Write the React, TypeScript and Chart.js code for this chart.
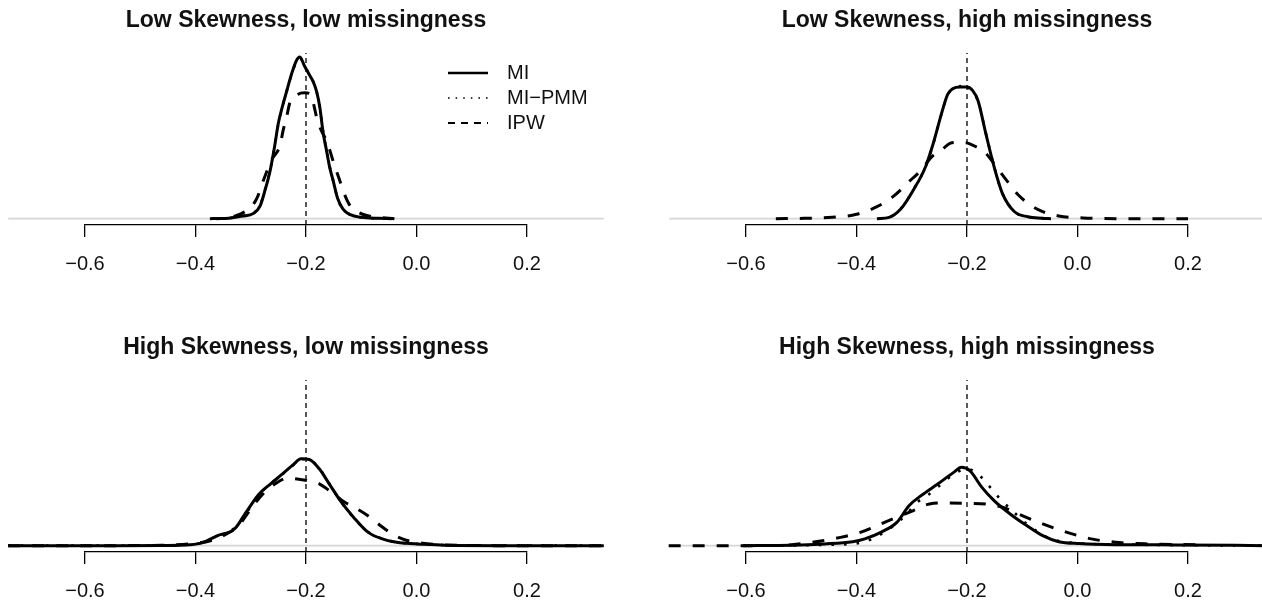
import React, { useEffect, useRef } from 'react';
import { Chart, registerables } from 'chart.js';

Chart.register(...registerables);

type Pt = [number, number];

// ---------- data ----------
const panelTitles = [
  'Low Skewness, low missingness',
  'Low Skewness, high missingness',
  'High Skewness, low missingness',
  'High Skewness, high missingness',
];
const seriesNames = ['MI', 'MI\u2212PMM', 'IPW'];
const tickValues = [-0.6, -0.4, -0.2, 0.0, 0.2];
const tickLabels = ['\u22120.6', '\u22120.4', '\u22120.2', '0.0', '0.2'];
const referenceValue = -0.2;
const zeroLineRange = [-0.739, 0.339];
const topRowYRange = [-0.4, 10.4];
const bottomRowYRange = [-0.34, 8.84];

// Low skewness, low missingness
const lowLowMI: Pt[] = [[-0.362,0],[-0.34,0.03],[-0.315,0.16],[-0.295,0.33],[-0.283,0.8],[-0.274,1.8],[-0.265,3.0],[-0.257,4.5],[-0.25,6.0],[-0.243,7.0],[-0.235,8.0],[-0.226,9.1],[-0.217,9.95],[-0.211,10.15],[-0.203,9.6],[-0.195,9.1],[-0.187,8.6],[-0.181,8.0],[-0.175,7.0],[-0.169,5.4],[-0.163,4.3],[-0.157,3.2],[-0.151,2.4],[-0.143,1.3],[-0.133,0.6],[-0.12,0.25],[-0.1,0.08],[-0.07,0.02],[-0.045,0]];
const lowLowPMM: Pt[] = [[-0.36,0],[-0.34,0.03],[-0.315,0.17],[-0.295,0.35],[-0.283,0.85],[-0.274,1.85],[-0.265,3.05],[-0.257,4.5],[-0.25,5.95],[-0.243,7.0],[-0.235,8.0],[-0.226,9.05],[-0.217,9.9],[-0.211,10.1],[-0.203,9.6],[-0.195,9.1],[-0.187,8.6],[-0.181,8.0],[-0.175,7.0],[-0.169,5.45],[-0.163,4.35],[-0.157,3.25],[-0.151,2.4],[-0.143,1.3],[-0.133,0.6],[-0.12,0.25],[-0.1,0.08],[-0.07,0.02],[-0.045,0]];
const lowLowIPW: Pt[] = [[-0.374,0],[-0.35,0.02],[-0.33,0.15],[-0.308,0.5],[-0.29,1.2],[-0.275,2.6],[-0.262,3.7],[-0.247,4.6],[-0.241,5.6],[-0.235,6.4],[-0.229,7.3],[-0.215,7.8],[-0.203,7.9],[-0.193,7.85],[-0.187,7.3],[-0.181,6.4],[-0.172,5.5],[-0.163,4.9],[-0.157,4.3],[-0.149,3.4],[-0.14,2.5],[-0.13,1.5],[-0.12,0.8],[-0.105,0.4],[-0.09,0.2],[-0.07,0.08],[-0.04,0]];

// Low skewness, high missingness
const lowHighMI: Pt[] = [[-0.363,0],[-0.341,0.08],[-0.32,0.6],[-0.297,1.8],[-0.275,3.26],[-0.261,4.73],[-0.246,6.61],[-0.235,7.8],[-0.226,8.15],[-0.212,8.26],[-0.2,8.26],[-0.19,8.05],[-0.18,7.4],[-0.166,5.35],[-0.151,3.26],[-0.136,1.59],[-0.114,0.43],[-0.09,0.12],[-0.065,0.03],[-0.048,0]];
const lowHighPMM: Pt[] = [[-0.36,0],[-0.341,0.08],[-0.32,0.62],[-0.297,1.82],[-0.275,3.25],[-0.261,4.7],[-0.246,6.6],[-0.235,7.78],[-0.226,8.12],[-0.213,8.3],[-0.205,8.55],[-0.198,8.25],[-0.19,8.0],[-0.18,7.38],[-0.166,5.38],[-0.151,3.28],[-0.136,1.6],[-0.114,0.44],[-0.09,0.12],[-0.065,0.03],[-0.048,0]];
const lowHighIPW: Pt[] = [[-0.546,0],[-0.495,0.02],[-0.444,0.08],[-0.4,0.27],[-0.363,0.75],[-0.334,1.38],[-0.305,2.32],[-0.283,3.05],[-0.264,3.88],[-0.246,4.3],[-0.231,4.73],[-0.217,4.79],[-0.202,4.77],[-0.184,4.52],[-0.166,4.1],[-0.147,3.26],[-0.129,2.43],[-0.107,1.48],[-0.085,0.85],[-0.063,0.44],[-0.034,0.17],[0.01,0.04],[0.069,0],[0.2,0]];

// High skewness, low missingness
const highLowMI: Pt[] = [[-0.739,0],[-0.55,0],[-0.461,0.01],[-0.41,0.05],[-0.388,0.15],[-0.359,0.55],[-0.329,0.9],[-0.308,1.8],[-0.286,2.72],[-0.264,3.3],[-0.242,3.84],[-0.223,4.32],[-0.209,4.64],[-0.194,4.6],[-0.176,4.1],[-0.158,3.3],[-0.136,2.32],[-0.114,1.52],[-0.088,0.72],[-0.059,0.33],[-0.03,0.15],[0.007,0.08],[0.051,0.02],[0.15,0],[0.339,0]];
const highLowPMM: Pt[] = [[-0.739,0],[-0.55,0],[-0.46,0.01],[-0.41,0.06],[-0.388,0.16],[-0.359,0.52],[-0.329,0.95],[-0.308,1.75],[-0.286,2.7],[-0.264,3.3],[-0.242,3.82],[-0.223,4.3],[-0.209,4.62],[-0.194,4.6],[-0.176,4.12],[-0.158,3.32],[-0.136,2.3],[-0.114,1.5],[-0.088,0.74],[-0.059,0.34],[-0.03,0.16],[0.007,0.08],[0.051,0.03],[0.15,0.01],[0.339,0]];
const highLowIPW: Pt[] = [[-0.739,0],[-0.55,0],[-0.461,0.02],[-0.41,0.1],[-0.373,0.26],[-0.344,0.62],[-0.322,1.07],[-0.3,1.96],[-0.278,2.76],[-0.256,3.3],[-0.234,3.6],[-0.216,3.56],[-0.198,3.47],[-0.176,3.3],[-0.154,2.85],[-0.132,2.35],[-0.11,2.0],[-0.088,1.6],[-0.06,0.95],[-0.04,0.55],[-0.02,0.3],[0.007,0.14],[0.051,0.04],[0.15,0],[0.339,0]];

// High skewness, high missingness
const highHighMI: Pt[] = [[-0.605,0],[-0.517,0.02],[-0.458,0.09],[-0.407,0.21],[-0.385,0.36],[-0.356,0.71],[-0.327,1.24],[-0.305,2.13],[-0.283,2.67],[-0.253,3.29],[-0.224,3.91],[-0.21,4.18],[-0.195,4.0],[-0.173,3.11],[-0.151,2.4],[-0.122,1.69],[-0.092,1.07],[-0.063,0.53],[-0.034,0.21],[0.003,0.11],[0.069,0.05],[0.178,0.04],[0.34,0]];
const highHighPMM: Pt[] = [[-0.605,0],[-0.444,0.05],[-0.385,0.21],[-0.341,0.89],[-0.312,1.6],[-0.29,2.31],[-0.268,2.76],[-0.246,3.29],[-0.224,3.82],[-0.199,4.09],[-0.177,3.73],[-0.158,3.11],[-0.14,2.49],[-0.118,1.87],[-0.092,1.16],[-0.07,0.71],[-0.048,0.36],[-0.005,0.14],[0.105,0.05],[0.34,0]];
const highHighIPW: Pt[] = [[-0.74,0],[-0.59,0],[-0.517,0.05],[-0.48,0.18],[-0.429,0.44],[-0.393,0.71],[-0.356,1.16],[-0.327,1.52],[-0.297,1.87],[-0.268,2.22],[-0.235,2.28],[-0.202,2.26],[-0.166,2.22],[-0.136,2.05],[-0.1,1.6],[-0.063,1.16],[-0.019,0.71],[0.025,0.36],[0.069,0.18],[0.127,0.09],[0.215,0.05],[0.34,0.02]];

// ---------- styling ----------
const FONT = '"Liberation Sans", Arial, Helvetica, sans-serif';
const INK = '#111111';
const CANVAS_W = 612;
const CANVAS_H = 302;

type PanelSpec = {
  title: string;
  mi: Pt[];
  pmm: Pt[];
  ipw: Pt[];
  yRange: number[];
  left: number;
  top: number;
  legend: boolean;
};

const panels: PanelSpec[] = [
  { title: panelTitles[0], mi: lowLowMI, pmm: lowLowPMM, ipw: lowLowIPW, yRange: topRowYRange, left: 0, top: 0, legend: true },
  { title: panelTitles[1], mi: lowHighMI, pmm: lowHighPMM, ipw: lowHighIPW, yRange: topRowYRange, left: 661, top: 0, legend: false },
  { title: panelTitles[2], mi: highLowMI, pmm: highLowPMM, ipw: highLowIPW, yRange: bottomRowYRange, left: 0, top: 327, legend: false },
  { title: panelTitles[3], mi: highHighMI, pmm: highHighPMM, ipw: highHighIPW, yRange: bottomRowYRange, left: 661, top: 327, legend: false },
];

const toXY = (a: Pt[]) => a.map(([x, y]) => ({ x, y }));

function makeLegendPlugin(show: boolean) {
  const widths = [2.5, 1.6, 2];
  const dashes = [[], [1.6, 6], [7, 6]];
  return {
    id: 'rStyleLegend',
    afterDraw(chart: any) {
      if (!show) return;
      const ctx = chart.ctx as CanvasRenderingContext2D;
      const x0 = 448;
      const y0 = 73;
      const row = 25;
      const len = 40;
      ctx.save();
      chart.data.datasets.slice(0, 3).forEach((ds: any, i: number) => {
        const y = y0 + i * row;
        ctx.beginPath();
        ctx.setLineDash(dashes[i]);
        ctx.lineWidth = widths[i];
        ctx.lineCap = 'butt';
        ctx.strokeStyle = ds.borderColor;
        ctx.moveTo(x0, y);
        ctx.lineTo(x0 + len, y);
        ctx.stroke();
        ctx.setLineDash([]);
        ctx.fillStyle = INK;
        ctx.font = `20px ${FONT}`;
        ctx.textBaseline = 'middle';
        ctx.textAlign = 'left';
        ctx.fillText(ds.label, x0 + len + 19, y);
      });
      ctx.restore();
    },
  };
}

function Panel({ spec }: { spec: PanelSpec }) {
  const ref = useRef<HTMLCanvasElement | null>(null);
  useEffect(() => {
    if (!ref.current) return;
    const [yMin, yMax] = spec.yRange;
    const common = { pointRadius: 0, pointHoverRadius: 0, fill: false, clip: false as any };
    const chart = new Chart(ref.current, {
      type: 'line',
      data: {
        datasets: [
          { ...common, label: seriesNames[0], data: toXY(spec.mi), borderColor: '#000', borderWidth: 3, cubicInterpolationMode: 'monotone' },
          { ...common, label: seriesNames[1], data: toXY(spec.pmm), borderColor: '#000', borderWidth: 2.6, borderDash: [2.6, 10], cubicInterpolationMode: 'monotone' },
          { ...common, label: seriesNames[2], data: toXY(spec.ipw), borderColor: '#000', borderWidth: 3, borderDash: [12, 12], cubicInterpolationMode: 'monotone' },
          { ...common, label: 'reference', data: [{ x: referenceValue, y: yMin }, { x: referenceValue, y: yMax }], borderColor: '#000', borderWidth: 1.3, borderDash: [5, 4] },
          { ...common, label: 'zero', data: [{ x: zeroLineRange[0], y: 0 }, { x: zeroLineRange[1], y: 0 }], borderColor: '#d6d6d6', borderWidth: 1.6 },
        ],
      },
      options: {
        animation: false,
        responsive: false,
        devicePixelRatio: 1,
        events: [],
        layout: { padding: { left: 85, right: 85, top: 0, bottom: 17 } },
        plugins: {
          legend: { display: false },
          tooltip: { enabled: false },
          title: {
            display: true,
            text: spec.title,
            color: INK,
            font: { family: FONT, size: 23, weight: 'bold' },
            padding: { top: 7, bottom: 18.4 },
          },
        },
        scales: {
          x: {
            type: 'linear',
            min: tickValues[0],
            max: tickValues[tickValues.length - 1],
            afterBuildTicks: (axis: any) => {
              axis.ticks = tickValues.map((v) => ({ value: v }));
            },
            afterFit: (axis: any) => {
              axis.height = 60;
            },
            grid: { drawOnChartArea: false, drawTicks: true, tickLength: 12, color: '#000', tickColor: '#000', lineWidth: 1.3 },
            border: { display: true, color: '#000', width: 1.3 },
            ticks: {
              autoSkip: false,
              maxRotation: 0,
              minRotation: 0,
              padding: 15,
              color: INK,
              font: { family: FONT, size: 20 },
              callback: (_v: any, i: number) => tickLabels[i],
            },
          },
          y: { type: 'linear', display: false, min: yMin, max: yMax },
        },
      },
      plugins: [makeLegendPlugin(spec.legend)],
    });
    return () => chart.destroy();
  }, [spec]);
  return (
    <canvas
      ref={ref}
      width={CANVAS_W}
      height={CANVAS_H}
      style={{ position: 'absolute', left: spec.left, top: spec.top, width: CANVAS_W, height: CANVAS_H }}
    />
  );
}

export default function App() {
  return (
    <div style={{ position: 'fixed', left: 0, top: 0, width: 1262, height: 604, overflow: 'hidden', background: '#fff' }}>
      {panels.map((p, i) => (
        <Panel key={i} spec={p} />
      ))}
    </div>
  );
}
